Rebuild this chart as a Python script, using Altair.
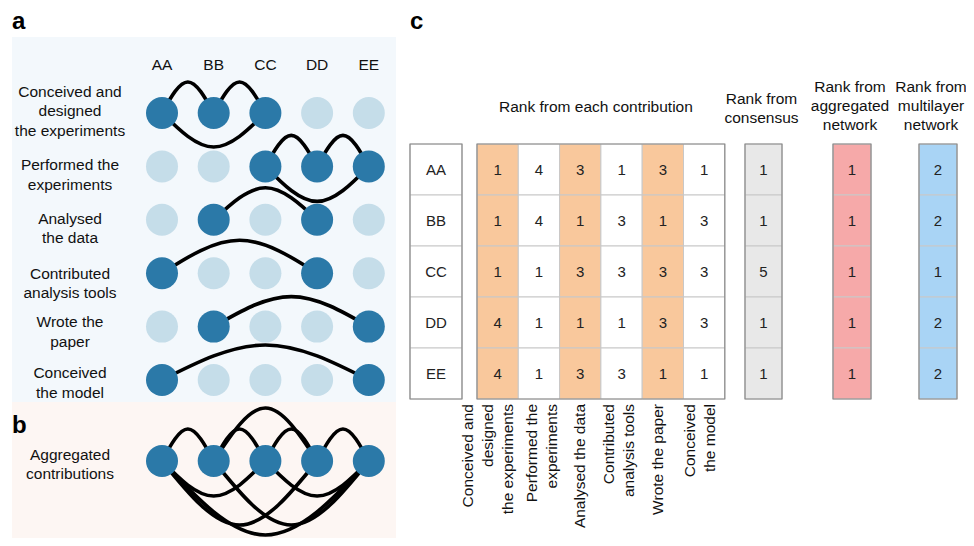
import itertools
import altair as alt
import pandas as pd

# ---------------- data ----------------
contributors = ["AA", "BB", "CC", "DD", "EE"]
contribution_names = [
    "Conceived and\ndesigned\nthe experiments",
    "Performed the\nexperiments",
    "Analysed\nthe data",
    "Contributed\nanalysis tools",
    "Wrote the\npaper",
    "Conceived\nthe model",
]
column_labels = [
    "Conceived and\ndesigned\nthe experiments",
    "Performed the\nexperiments",
    "Analysed the data",
    "Contributed\nanalysis tools",
    "Wrote the paper",
    "Conceived\nthe model",
]
members = [
    ["AA", "BB", "CC"],
    ["CC", "DD", "EE"],
    ["BB", "DD"],
    ["AA", "DD"],
    ["BB", "EE"],
    ["AA", "EE"],
]
rank_conceived_designed = [1, 1, 1, 4, 4]
rank_performed = [4, 4, 1, 1, 1]
rank_analysed = [3, 1, 3, 1, 3]
rank_tools = [1, 3, 3, 1, 3]
rank_wrote = [3, 1, 3, 3, 1]
rank_model = [1, 3, 3, 3, 1]
rank_consensus = [1, 1, 5, 1, 1]
rank_aggregated = [1, 1, 1, 1, 1]
rank_multilayer = [2, 2, 1, 2, 2]
rank_headers = ["Rank from each contribution", "Rank from\nconsensus",
                "Rank from\naggregated\nnetwork", "Rank from\nmultilayer\nnetwork"]

# ---------------- layout & style ----------------
W, H = 958, 530
FONT = "Liberation Sans, Arial, Helvetica, sans-serif"
xs = alt.Scale(domain=[8, 8 + W])
ys = alt.Scale(domain=[8, 8 + H], reverse=True)
node_x0, node_dx = 162, 51.7
row_y0, row_dy = 113, 53.4
agg_y = 461
row_label_y = [111, 175, 228.5, 283.5, 332, 383]   # centre of each label block
node_size = 1024
DARK, LIGHT = "#2b79a8", "#c5dde9"
# arc apex offset from the node line (negative = above), per member pair
row_arc = [
    {(0, 1): -31, (1, 2): -31, (0, 2): 34},
    {(0, 1): -31, (1, 2): -31, (0, 2): 35},
    {(0, 1): -32},
    {(0, 1): -33},
    {(0, 1): -30},
    {(0, 1): -35},
]
agg_arc = {("AA", "BB"): -32, ("BB", "CC"): -32, ("CC", "DD"): -32, ("DD", "EE"): -32,
           ("BB", "DD"): -53, ("AA", "CC"): 35, ("CC", "EE"): 35,
           ("AA", "DD"): 64, ("BB", "EE"): 64, ("AA", "EE"): 74}

tab_top, row_h = 144, 51
name_box = (410, 462)
grid_x0, col_w = 477, 41.3
extra_boxes = [(745, 782), (833, 871), (919, 957)]
ORANGE, GRAY, PINK, BLUE = "#f9c89c", "#e8e8e8", "#f6a9a9", "#a9d4f5"
col_label_cx = [488, 542, 580, 618.5, 658, 700]      # centre of each rotated label block
head_bottom_y = [107, 118, 125, 125]                  # last line of each table header
head_cx_shift = [-5, -2, -2, -7]
LH = 19.5


def nx(name):
    return node_x0 + node_dx * contributors.index(name)


def row_y(r):
    return row_y0 + row_dy * r


def nlines(t):
    return t.count("\n") + 1


X = lambda f="x": alt.X(f"{f}:Q", scale=xs, axis=None)
Y = lambda f="y": alt.Y(f"{f}:Q", scale=ys, axis=None)

# ---------------- backgrounds ----------------
bg = pd.DataFrame({"x": [12, 12], "x2": [396, 396], "y": [37, 402], "y2": [402, 546],
                   "fill": ["#f3f8fc", "#fdf6f3"]})
bg_layer = alt.Chart(bg).mark_rect().encode(
    x=X(), x2="x2:Q", y=Y(), y2="y2:Q", color=alt.Color("fill:N", scale=None))

# ---------------- edges ----------------
pts = []
eid = 0
for r, mem in enumerate(members):
    for (i, j) in itertools.combinations(range(len(mem)), 2):
        xa, xb, y0 = nx(mem[i]), nx(mem[j]), row_y(r)
        d = row_arc[r][(i, j)]
        for k, (px, py) in enumerate([(xa, y0), ((xa + xb) / 2, y0 + d), (xb, y0)]):
            pts.append({"edge": eid, "k": k, "x": px, "y": py})
        eid += 1
agg_pairs = sorted({tuple(sorted(p)) for mem in members for p in itertools.combinations(mem, 2)})
for a, b in agg_pairs:
    xa, xb = nx(a), nx(b)
    d = agg_arc[(a, b)]
    for k, (px, py) in enumerate([(xa, agg_y), ((xa + xb) / 2, agg_y + d), (xb, agg_y)]):
        pts.append({"edge": eid, "k": k, "x": px, "y": py})
    eid += 1
edge_layer = alt.Chart(pd.DataFrame(pts)).mark_line(
    interpolate="natural", color="black", strokeWidth=3.6, strokeCap="round").encode(
    x=X(), y=Y(), detail="edge:N", order="k:Q")

# ---------------- nodes ----------------
nodes = []
for r, mem in enumerate(members):
    for c in contributors:
        nodes.append({"x": nx(c), "y": row_y(r), "fill": DARK if c in mem else LIGHT})
for c in contributors:
    nodes.append({"x": nx(c), "y": agg_y, "fill": DARK})
node_layer = alt.Chart(pd.DataFrame(nodes)).mark_circle(size=node_size, opacity=1).encode(
    x=X(), y=Y(), color=alt.Color("fill:N", scale=None))

# ---------------- texts of panels a/b ----------------
def text_layer(df, lh=LH, **kw):
    base = dict(font=FONT, fontSize=15.5, color="#111", lineBreak="\n", lineHeight=lh,
                align="center", baseline="middle")
    base.update(kw)
    return alt.Chart(df).mark_text(**base).encode(x=X(), y=Y(), text="t:N")


hdr = pd.DataFrame({"x": [nx(c) for c in contributors], "y": [65] * 5, "t": contributors})
rl_text = contribution_names + ["Aggregated\ncontributions"]
rl_cy = row_label_y + [464.5]
rowlab = pd.DataFrame({"x": [70] * 7,
                       "y": [cy - (nlines(t) - 1) * LH / 2 for t, cy in zip(rl_text, rl_cy)],
                       "t": rl_text})
letters = pd.DataFrame({"x": [12, 12, 410], "y": [22, 426, 22], "t": ["a", "b", "c"]})

# ---------------- table of panel c ----------------
rank_cols = [rank_conceived_designed, rank_performed, rank_analysed,
             rank_tools, rank_wrote, rank_model]
cells, boxes = [], []
for i, c in enumerate(contributors):
    y1, y2 = tab_top + row_h * i, tab_top + row_h * (i + 1)
    cells.append({"x": name_box[0], "x2": name_box[1], "y": y1, "y2": y2, "fill": "white",
                  "t": c})
    for j, col in enumerate(rank_cols):
        cells.append({"x": grid_x0 + col_w * j, "x2": grid_x0 + col_w * (j + 1), "y": y1,
                      "y2": y2, "fill": ORANGE if j % 2 == 0 else "white", "t": str(col[i])})
    for (bx1, bx2), col, f in zip(extra_boxes, [rank_consensus, rank_aggregated, rank_multilayer],
                                  [GRAY, PINK, BLUE]):
        cells.append({"x": bx1, "x2": bx2, "y": y1, "y2": y2, "fill": f, "t": str(col[i])})
cells = pd.DataFrame(cells)
cells["cx"] = (cells["x"] + cells["x2"]) / 2
cells["cy"] = (cells["y"] + cells["y2"]) / 2

tab_bottom = tab_top + row_h * len(contributors)
for bx1, bx2 in [name_box, (grid_x0, grid_x0 + col_w * 6)] + extra_boxes:
    boxes.append({"x": bx1, "x2": bx2, "y": tab_top, "y2": tab_bottom})
boxes = pd.DataFrame(boxes)

cell_layer = alt.Chart(cells).mark_rect(stroke="#c8c8c8", strokeWidth=1).encode(
    x=X(), x2="x2:Q", y=Y(), y2="y2:Q", color=alt.Color("fill:N", scale=None))
box_layer = alt.Chart(boxes).mark_rect(fill="transparent", stroke="#8a8a8a", strokeWidth=1.2).encode(
    x=X(), x2="x2:Q", y=Y(), y2="y2:Q")
cell_text = alt.Chart(cells).mark_text(font=FONT, fontSize=15, color="#222").encode(
    x=X("cx"), y=Y("cy"), text="t:N")

head_cx = [grid_x0 + col_w * 3] + [(a + b) / 2 for a, b in extra_boxes]
th = pd.DataFrame({"x": [cx + s for cx, s in zip(head_cx, head_cx_shift)],
                   "y": [yb - (nlines(t) - 1) * 19 for t, yb in zip(rank_headers, head_bottom_y)],
                   "t": rank_headers})
cl = pd.DataFrame({"x": [cx - (nlines(t) - 1) * 20 / 2 for t, cx in zip(column_labels, col_label_cx)],
                   "y": [404] * 6, "t": column_labels})

chart = alt.layer(
    bg_layer,
    edge_layer,
    node_layer,
    text_layer(hdr),
    text_layer(rowlab),
    text_layer(letters, fontSize=24, fontWeight="bold", align="left", color="black"),
    cell_layer,
    box_layer,
    cell_text,
    text_layer(th, lh=19),
    text_layer(cl, lh=20, angle=270, align="right"),
).properties(width=W, height=H, padding=0, autosize="none").configure_view(strokeWidth=0)

chart.save("out.html", embed_options={"renderer": "svg", "actions": False})
